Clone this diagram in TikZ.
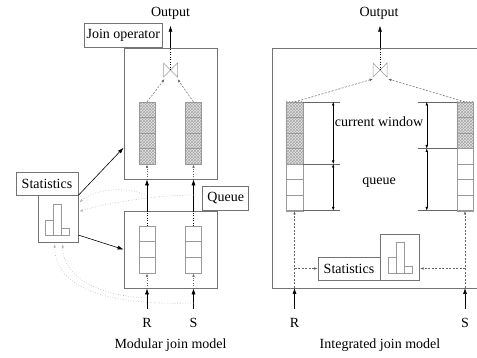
\documentclass[tikz,border=0pt]{standalone}
\usepackage{fontspec}
\setmainfont{Liberation Serif}
\usetikzlibrary{arrows.meta, calc, patterns, positioning}

\begin{document}
\begin{tikzpicture}
  [
    x=1pt, y=-1pt,
    >=Latex,
    every node/.style = {font=\fontsize{14}{16}\selectfont},
    box/.style    = {draw=black!55, line width=.7pt, inner sep=0pt},
    tag/.style    = {draw=black!55, line width=.7pt, fill=white, inner sep=1pt},
    col/.style    = {draw=black!40, line width=.5pt, minimum width=16, inner sep=0pt},
    hatch/.style  = {preaction={fill=black!10}, pattern=crosshatch, pattern color=black!35},
    cell/.style   = {draw=black!40, line width=.5pt},
    flow/.style   = {-{Latex[length=6pt,width=4pt]}, line width=.6pt},
    feed/.style   = {dash pattern=on 2pt off 1.5pt, draw=black!60, line width=.5pt, -{Latex[length=3.5pt,width=2.5pt]}},
    trickle/.style= {dotted, draw=black!60, line width=.5pt, -{Latex[length=3.5pt,width=2.5pt]}},
    tap/.style    = {dotted, draw=black!30, line width=.6pt, -{Latex[length=3.5pt,width=2.5pt]}},
    dimen/.style  = {{Latex[length=3.5pt,width=2.5pt]}-{Latex[length=3.5pt,width=2.5pt]}, line width=.4pt},
    tick/.style   = {draw=black!60, line width=.4pt},
  ]

  \useasboundingbox (0,0) rectangle (477,358);

  % cell height of the queues
  \def\ch{15.5}

  % ---------------- modular join model ----------------
  \node (outL) at (170.5,13) {Output};
  \node (joinbox) [box, minimum width=93, minimum height=131] at (170.5,113.5) {};
  \node (loBox) [box, minimum width=93, minimum height=77] at (170.5,249.5) {};
  \node (joinTag) [tag, minimum width=78, minimum height=24, anchor=south east]
    at ($(joinbox.north west)+(39,0)$) {Join operator};
  \node (queueTag) [tag, minimum width=46, minimum height=24, anchor=south west]
    at ($(loBox.north east)+(-15,0)$) {Queue};

  % the join symbol
  \coordinate (tieL) at (170.5,70);
  \draw[cell] (tieL) ++(-7,-7) -- ++(14,14) -- ++(0,-14) -- ++(-14,14) -- cycle;

  % queues
  \node (upR) [col, hatch, minimum height=62, anchor=north] at (147,102) {};
  \node (upS) [col, hatch, minimum height=62, anchor=north] at (193.5,102) {};
  \node (loR) [col, minimum height=47, anchor=north] at (147,226) {};
  \node (loS) [col, minimum height=47, anchor=north] at (193.5,226) {};
  \foreach \c in {upR,upS}
    \foreach \k in {1,2,3}
      \draw[cell] ($(\c.north west)+(0,\ch*\k)$) -- ++(16,0);
  \foreach \c in {loR,loS}
    \foreach \k in {1,2}
      \draw[cell] ($(\c.north west)+(0,15.67*\k)$) -- ++(16,0);

  \draw[dotted, line width=.5pt] (tieL) -- (tieL |- joinbox.north);
  \draw[flow, shorten >=3pt] (tieL |- joinbox.north) -- (tieL |- outL.south);
  \draw[feed] (upR.north) -- ($(tieL)+(-6,9)$);
  \draw[feed] (upS.north) -- ($(tieL)+(7,9)$);

  \foreach \c/\d in {upR/loR, upS/loS} {
    \draw[dotted, line width=.5pt] (\d.north) -- (\d |- loBox.north);
    \draw[flow] (\d |- loBox.north) -- (\d |- joinbox.south);
    \draw[trickle] (\c |- joinbox.south) -- (\c.south);
  }

  \node (inR) at (147,323) {R};
  \node (inS) at (193.5,323) {S};
  \foreach \n/\d in {inR/loR, inS/loS} {
    \draw[flow, shorten <=6pt] (\n.north) -- (\n |- loBox.south);
    \draw[trickle] (\d |- loBox.south) -- (\d.south);
  }

  % statistics
  \node (statL) [tag, minimum width=62, minimum height=23] at (47,183.5) {Statistics};
  \node (histL) [box, minimum width=40, minimum height=47, anchor=north east] at (statL.south east) {};
  \foreach \dx/\h in {8/15, 16/31, 24/7}
    \draw[cell] ($(histL.south west)+(\dx,-8)$) rectangle ++(8,-\h);

  \draw[flow] (statL.south east) -- ($(joinbox.north west)+(0,100)$);
  \draw[flow] ($(histL.south east)+(0,-8)$) -- (loBox.west);

  \coordinate (tapUR) at ($(loR |- loBox.north)!.5!(loR |- joinbox.south)$);
  \coordinate (tapUS) at ($(loS |- loBox.north)!.5!(loS |- joinbox.south)$);
  \coordinate (tapLR) at (inR |- 0,298);
  \coordinate (tapLS) at (inS |- 0,303);
  \draw[tap] (tapUR) .. controls (125,186) and (95,189) .. ($(histL.north east)+(1,7)$);
  \draw[tap] (tapUS) .. controls (160,195) and (110,202) .. ($(histL.north east)+(1,16)$);
  \draw[tap] (tapLR) .. controls (100,296) and (63,278) .. ($(histL.south west)+(25,1)$);
  \draw[tap] (tapLS) .. controls (100,306) and (55,285) .. ($(histL.south west)+(17,1)$);

  \node (capL) at (170.5,345) {Modular join model};

  % ---------------- integrated join model ----------------
  \node (outR) at (379,13) {Output};
  % frame open on the right: three separate sides
  \coordinate (intTop) at (272,48);
  \coordinate (intBot) at (272,288);
  \coordinate (intTopEnd) at (477,48);
  \coordinate (intBotEnd) at (477,288);
  \draw[box] (intTop) -- (intTopEnd);
  \draw[box] (intTop) -- (intBot);
  \draw[box] (intBot) -- (intBotEnd);

  \coordinate (tieR) at (380,70);
  \draw[cell] (tieR) ++(-7,-7) -- ++(14,14) -- ++(0,-14) -- ++(-14,14) -- cycle;
  \draw[dotted, line width=.5pt] (tieR) -- (tieR |- intTop);
  \draw[flow, shorten >=3pt] (tieR |- intTop) -- (tieR |- outR.south);

  % one window per stream
  \node (winR) [col, minimum width=17, minimum height=108.5, anchor=north] at (294.5,102) {};
  \node (winS) [col, minimum height=108.5, anchor=north] at (465,102) {};
  \path[hatch] (winR.north west) rectangle ($(winR.north east)+(0,4*\ch)$);
  \path[hatch] (winS.north west) rectangle ($(winS.north east)+(0,3*\ch)$);
  \foreach \c in {winR,winS} {
    \draw[cell] (\c.north west) rectangle (\c.south east);
    \foreach \k in {1,...,6}
      \draw[cell] ($(\c.north west)+(0,\ch*\k)$) -- ($(\c.north east)+(0,\ch*\k)$);
  }

  % window and queue extents
  \foreach \k in {0,4,7}
    \draw[tick] ($(winR.north east)+(0,\ch*\k)$) -- ++(37,0);
  \foreach \k in {0,3,7}
    \draw[tick] ($(winS.north west)+(0,\ch*\k)$) -- ++(-39,0);
  \draw[dimen] ($(winR.north east)+(30,0)$) -- ($(winR.north east)+(30,4*\ch)$);
  \draw[dimen] ($(winR.north east)+(30,4*\ch)$) -- ($(winR.north east)+(30,7*\ch)$);
  \draw[dimen] ($(winS.north west)+(-30,0)$) -- ($(winS.north west)+(-30,3*\ch)$);
  \draw[dimen] ($(winS.north west)+(-30,3*\ch)$) -- ($(winS.north west)+(-30,7*\ch)$);

  \node (curwin) at (379,122) {current window};
  \node (qtext) at (379,183) {queue};

  \draw[feed] (winR.north) -- ($(tieR)+(-7,9)$);
  \draw[feed] (winS.north) -- ($(tieR)+(8,9)$);

  % statistics
  \node (statR) [tag, minimum width=62, minimum height=23] at (349,268.5) {Statistics};
  \node (histR) [box, minimum width=39, minimum height=46, anchor=south west] at (statR.south east) {};
  \foreach \dx/\h in {8/16, 16/31, 24/7}
    \draw[cell] ($(histR.south west)+(\dx,-7)$) rectangle ++(8,-\h);

  \node (inR2) at (294.5,323) {R};
  \node (inS2) at (465,323) {S};
  \foreach \n/\c in {inR2/winR, inS2/winS} {
    \draw[flow, shorten <=6pt] (\n.north) -- (\n |- intBot);
    \draw[feed] (\c |- intBot) -- (\c.south);
  }
  \coordinate (tapR2) at (winR |- statR.west);
  \coordinate (tapS2) at (winS |- statR.east);
  \draw[feed] (tapR2) -- (statR.west);
  \draw[feed] (tapS2) -- (histR.east |- statR.east);

  \node (capR) at (380,345) {Integrated join model};

\end{tikzpicture}
\end{document}
